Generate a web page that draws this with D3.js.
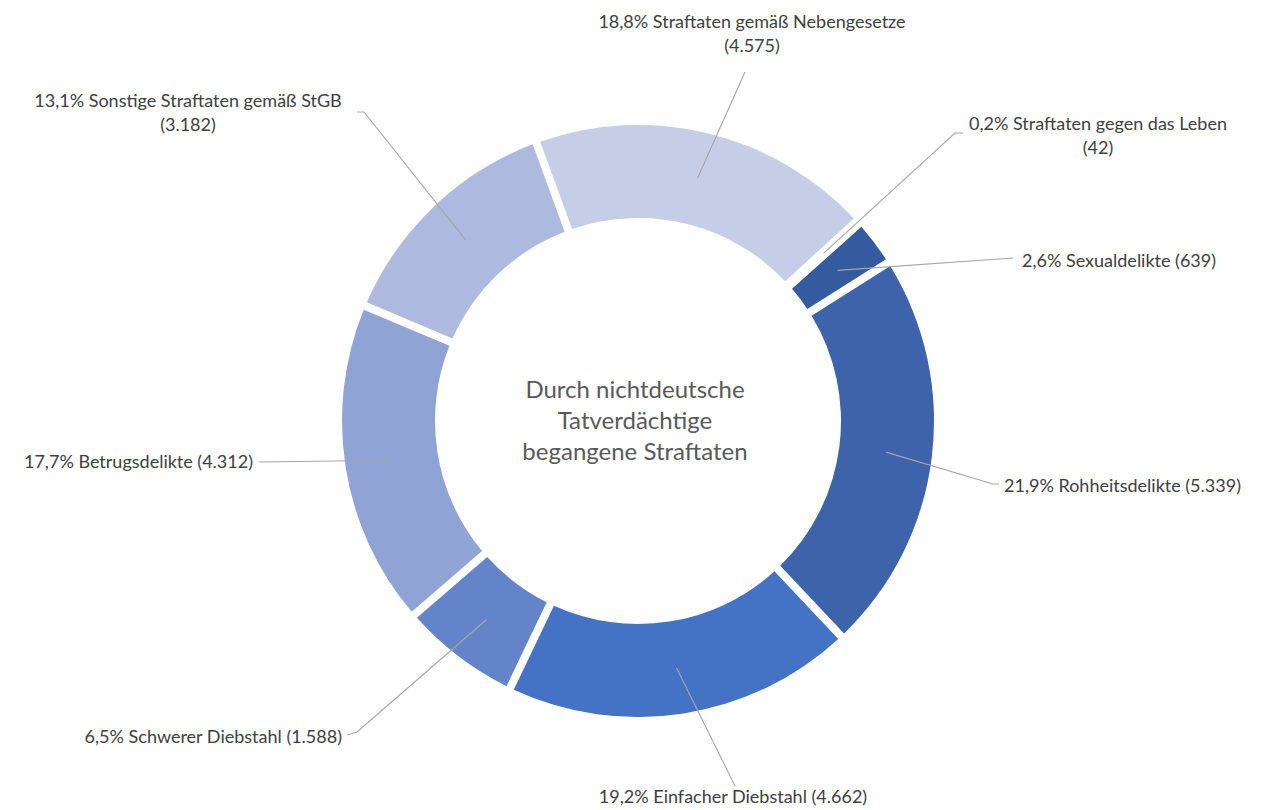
<!DOCTYPE html>
<html>
<head>
<meta charset="utf-8">
<script src="https://cdn.jsdelivr.net/npm/d3@7"></script>
<style>
  html, body { margin: 0; padding: 0; background: #fff; }
  svg { display: block; }
  text { font-family: "Lato", "Open Sans", sans-serif; }
</style>
</head>
<body>
<svg id="chart" width="1273" height="810"></svg>
<script>
// ---- data ----
const categories = [
  "Straftaten gegen das Leben",
  "Sexualdelikte",
  "Rohheitsdelikte",
  "Einfacher Diebstahl",
  "Schwerer Diebstahl",
  "Betrugsdelikte",
  "Sonstige Straftaten gemäß StGB",
  "Straftaten gemäß Nebengesetze"
];
const counts = [42, 639, 5339, 4662, 1588, 4312, 3182, 4575];
const percentLabels = ["0,2%", "2,6%", "21,9%", "19,2%", "6,5%", "17,7%", "13,1%", "18,8%"];
const countLabels = ["42", "639", "5.339", "4.662", "1.588", "4.312", "3.182", "4.575"];
const centerTitle = ["Durch nichtdeutsche", "Tatverdächtige", "begangene Straftaten"];

// ---- styles / layout ----
const colors = ["#2c4f8c", "#345a9f", "#3d63ab", "#4472c4", "#6484c9", "#8fa3d5", "#adb9de", "#c6cee7"];
const W = 1273, H = 810;
const cx = 638, cy = 421;
const outerR = 296, innerR = 203, leaderR = 250;
const startDeg = 47.6;

// label layout: text position, anchor, lines split, leader path end points (relative to page)
const labelLayout = [
  { x: 1098, y: 130, anchor: "middle", split: true,  bend: [955, 133], end: [963, 133] },
  { x: 1022, y: 267, anchor: "start",  split: false, bend: null,       end: [1013, 258] },
  { x: 1004, y: 492, anchor: "start",  split: false, bend: [993, 484], end: [999, 484] },
  { x: 733,  y: 803, anchor: "middle", split: false, bend: null,       end: [735, 786] },
  { x: 342,  y: 743, anchor: "end",    split: false, bend: [357, 732], end: [347, 735] },
  { x: 253,  y: 468, anchor: "end",    split: false, bend: null,       end: [259, 462] },
  { x: 188,  y: 107, anchor: "middle", split: true,  bend: [364, 112], end: [357, 112] },
  { x: 752,  y: 28,  anchor: "middle", split: true,  bend: null,       end: [745, 72] }
];

const svg = d3.select("#chart");
const g = svg.append("g").attr("transform", `translate(${cx},${cy})`);

const pie = d3.pie()
  .sort(null)
  .value(d => d)
  .startAngle(startDeg * Math.PI / 180)
  .endAngle(startDeg * Math.PI / 180 + 2 * Math.PI);

const arcs = pie(counts);

const arc = d3.arc()
  .innerRadius(innerR)
  .outerRadius(outerR)
  .padRadius(outerR)
  .padAngle(8 / outerR);

g.selectAll("path.slice")
  .data(arcs)
  .join("path")
  .attr("class", "slice")
  .attr("d", arc)
  .attr("fill", (d, i) => colors[i]);

// leader lines
const midArc = d3.arc().innerRadius(leaderR).outerRadius(leaderR);
arcs.forEach((d, i) => {
  const c = midArc.centroid(d);
  const L = labelLayout[i];
  const pts = [[cx + c[0], cy + c[1]]];
  if (L.bend) pts.push(L.bend);
  pts.push(L.end);
  svg.append("path")
    .attr("d", d3.line()(pts))
    .attr("fill", "none")
    .attr("stroke", "#a6a6a6")
    .attr("stroke-width", 1.1);
});

// labels
arcs.forEach((d, i) => {
  const L = labelLayout[i];
  const t = svg.append("text")
    .attr("x", L.x)
    .attr("y", L.y)
    .attr("text-anchor", L.anchor)
    .attr("fill", "#404040")
    .attr("font-size", 18);
  const main = `${percentLabels[i]} ${categories[i]}`;
  const cnt = `(${countLabels[i]})`;
  if (L.split) {
    t.append("tspan").attr("x", L.x).text(main);
    t.append("tspan").attr("x", L.x).attr("dy", 24).text(cnt);
  } else {
    t.text(`${main} ${cnt}`);
  }
});

// center title
const ct = svg.append("text")
  .attr("text-anchor", "middle")
  .attr("fill", "#595959")
  .attr("font-size", 24);
centerTitle.forEach((line, k) => {
  ct.append("tspan").attr("x", cx - 3).attr("y", cy - 23 + k * 31).text(line);
});
</script>
</body>
</html>
